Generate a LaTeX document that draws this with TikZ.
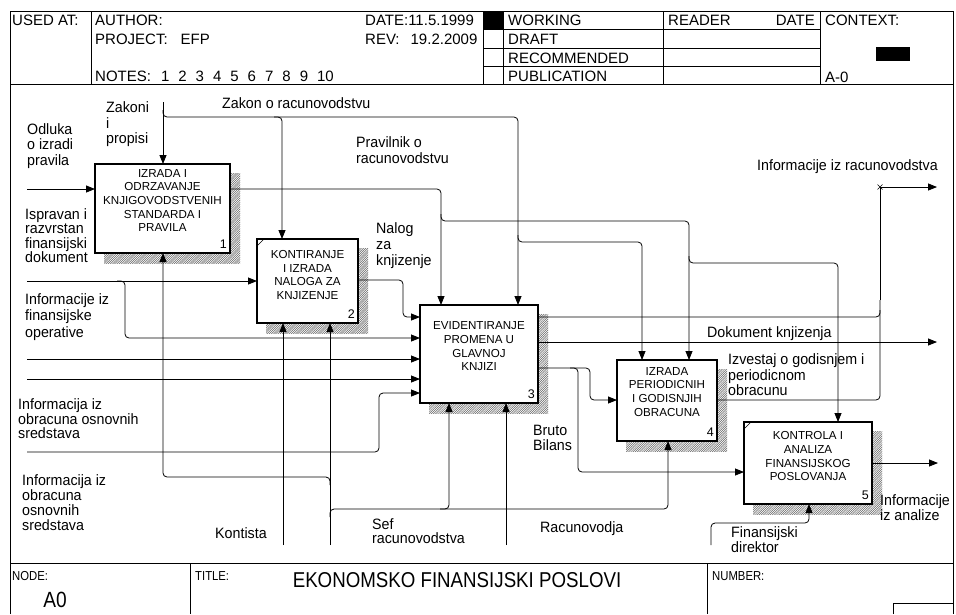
\documentclass[tikz,border=0pt]{standalone}
\usepackage{fontspec}
\setmainfont{Liberation Sans}
\newfontfamily\hdrfont{Liberation Sans}
\newfontfamily\lblfont[FakeStretch=0.95]{Liberation Sans}
\newfontfamily\boxfont{Liberation Sans}
\newfontfamily\narrowfont[FakeStretch=0.87]{Liberation Sans}
\usetikzlibrary{arrows.meta,patterns}
\pgfdeclarepatternformonly{densehatch}{\pgfqpoint{-1pt}{-1pt}}{\pgfqpoint{3.2pt}{3.2pt}}{\pgfqpoint{2.2pt}{2.2pt}}{%
  \pgfsetlinewidth{0.5pt}%
  \pgfpathmoveto{\pgfqpoint{-0.1pt}{-0.1pt}}%
  \pgfpathlineto{\pgfqpoint{2.3pt}{2.3pt}}%
  \pgfusepath{stroke}}
\newcommand{\ngap}{\hspace{9pt}}
\begin{document}
\begin{tikzpicture}[x=1pt,y=-1pt,
  frame/.style={line width=0.8pt},
  thinl/.style={line width=0.6pt},
  proc/.style={draw, line width=1.5pt, fill=white, inner sep=0pt, outer sep=0pt, anchor=north west},
  shadowbox/.style={pattern=densehatch, pattern color=black!60, draw=none},
  conn/.style={line width=0.8pt, rounded corners=4pt},
  arr/.style={conn, -{Triangle[length=9pt,width=7pt]}},
  lbl/.style={font=\lblfont\fontsize{15}{15.5}\selectfont, align=left, inner sep=0pt, anchor=north west},
  hdr/.style={font=\hdrfont\fontsize{15}{17}\selectfont, inner sep=0pt, anchor=west},
  ftr/.style={font=\narrowfont\fontsize{13}{15}\selectfont, inner sep=0pt, anchor=west},
  btxt/.style={font=\boxfont\fontsize{11.6}{13.7}\selectfont, align=center, inner sep=0pt, anchor=north},
  bnum/.style={font=\hdrfont\fontsize{12.5}{14}\selectfont, inner sep=0pt, anchor=south east},
]
\useasboundingbox (0,0) rectangle (956,614);
\fill[white] (0,0) rectangle (956,614);

% ---------- frame ----------
\draw[frame] (10,614) -- (10,11) -- (953,11) -- (953,614);
\draw[frame] (10,84) -- (953,84);
\draw[frame] (10,563) -- (953,563);
\draw[frame] (91,11) -- (91,84);
\draw[frame] (483,11) -- (483,84);
\draw[frame] (503,11) -- (503,84);
\draw[frame] (663,11) -- (663,84);
\draw[frame] (820,11) -- (820,84);
\draw[frame] (483,29.5) -- (820,29.5);
\draw[frame] (483,48) -- (820,48);
\draw[frame] (483,66) -- (820,66);
\fill (483,11) rectangle (503,29.5);
\fill (876,47) rectangle (910,61);
\draw[frame] (190,563) -- (190,614);
\draw[frame] (707,563) -- (707,614);
\draw[frame] (893,614) -- (893,603) -- (953,603);

% ---------- header text ----------
\node[hdr] (usedat) at (12,20.5) {USED AT:};
\node[hdr] (author) at (95,20.5) {AUTHOR:};
\node[hdr] (project) at (95,39) {PROJECT:\hspace{13pt}EFP};
\node[hdr] (notes) at (95,76) {NOTES:\hspace{10pt}1\ngap 2\ngap 3\ngap 4\ngap 5\ngap 6\ngap 7\ngap 8\ngap 9\ngap 10};
\node[hdr] (date) at (365,20.5) {DATE:11.5.1999};
\node[hdr] (rev) at (365,39) {REV:\hspace{11pt}19.2.2009};
\node[hdr] (working) at (508,20.5) {WORKING};
\node[hdr] (draft) at (508,39.5) {DRAFT};
\node[hdr] (recom) at (508,58) {RECOMMENDED};
\node[hdr] (publ) at (508,76) {PUBLICATION};
\node[hdr] (reader) at (668,20.5) {READER};
\node[hdr, anchor=east] (rdate) at (815,20.5) {DATE};
\node[hdr] (context) at (825,20.5) {CONTEXT:};
\node[hdr] (azero) at (825,77.5) {A-0};

% ---------- footer text ----------
\node[ftr] (nodelbl) at (12,576) {NODE:};
\node[inner sep=0pt, font=\narrowfont\fontsize{22}{24}\selectfont] (nodeval) at (55,600) {A0};
\node[ftr] (titlelbl) at (195,576) {TITLE:};
\node[inner sep=0pt, font=\narrowfont\fontsize{21.5}{23}\selectfont] (title) at (457,580) {EKONOMSKO FINANSIJSKI POSLOVI};
\node[ftr] (numlbl) at (712,576) {NUMBER:};

% ---------- shadows ----------
\fill[shadowbox] (104,173) rectangle (240,263);
\fill[shadowbox] (266,248) rectangle (368,333);
\fill[shadowbox] (429,314) rectangle (548,413);
\fill[shadowbox] (626,369) rectangle (727,451);
\fill[shadowbox] (753,431) rectangle (882,514);

% ---------- boxes ----------
\node[proc, minimum width=135pt, minimum height=89pt] (b1) at (95,164) {};
\node[proc, minimum width=101pt, minimum height=84pt] (b2) at (257,239) {};
\node[proc, minimum width=118pt, minimum height=98pt] (b3) at (420,305) {};
\node[proc, minimum width=100pt, minimum height=81pt] (b4) at (617,360) {};
\node[proc, minimum width=128pt, minimum height=82pt] (b5) at (744,422) {};

\node[btxt, yshift=-5pt] (t1) at (b1.north) {IZRADA I\\ODRZAVANJE\\KNJIGOVODSTVENIH\\STANDARDA I\\PRAVILA};
\node[btxt, yshift=-11pt] (t2) at (b2.north) {KONTIRANJE\\I IZRADA\\NALOGA ZA\\KNJIZENJE};
\node[btxt, yshift=-16.5pt] (t3) at (b3.north) {EVIDENTIRANJE\\PROMENA U\\GLAVNOJ\\KNJIZI};
\node[btxt, yshift=-7pt] (t4) at (b4.north) {IZRADA\\PERIODICNIH\\I GODISNJIH\\OBRACUNA};
\node[btxt, yshift=-9.5pt] (t5) at (b5.north) {KONTROLA I\\ANALIZA\\FINANSIJSKOG\\POSLOVANJA};

\node[bnum, xshift=-3pt, yshift=4pt] (n1) at (b1.south east) {1};
\node[bnum, xshift=-3pt, yshift=4pt] (n2) at (b2.south east) {2};
\node[bnum, xshift=-3pt, yshift=4pt] (n3) at (b3.south east) {3};
\node[bnum, xshift=-3pt, yshift=4pt] (n4) at (b4.south east) {4};
\node[bnum, xshift=-3pt, yshift=4pt] (n5) at (b5.south east) {5};

\draw[thinl] ([yshift=-7pt]b2.north west) -- ([xshift=7pt]b2.north west);
\draw[thinl] ([yshift=-7pt]b5.north west) -- ([xshift=7pt]b5.north west);

% ---------- free ends ----------
\coordinate (odluka) at (27,189);
\coordinate (zakoni) at (163,102);
\coordinate (ispravan) at (27,281);
\coordinate (fin1) at (27,359);
\coordinate (fin2) at (27,379);
\coordinate (osn) at (27,452);
\coordinate (infr) at (937,187);
\coordinate (dok) at (937,342);
\coordinate (infa) at (938,463);
\coordinate (kont) at (283,545);
\coordinate (sef) at (330,545);
\coordinate (racun) at (506,545);
\coordinate (fd) at (711,545);

% ---------- inputs ----------
\draw[arr] (odluka) -- (b1.west |- odluka);
\draw[arr] (ispravan) -- (b2.west |- ispravan);
\draw[arr] (117,281) -- (125,281) -- (125,338) -- (b3.west |- 0,338);
\draw[arr] (fin1) -- (b3.west |- fin1);
\draw[arr] (fin2) -- (b3.west |- fin2);
\draw[arr] (osn) -- (379,452) -- (379,393) -- (b3.west |- 0,393);

% ---------- controls ----------
\draw[arr] (zakoni) -- (b1.north -| zakoni);
\draw[arr] (163,110) -- (163,117) -- (518,117) -- (b3.north -| 518,0);
\draw[arr] (274,117) -- (282,117) -- (b2.north -| 282,0);
\draw[arr] (518,235) -- (518,242) -- (642,242) -- (b4.north -| 642,0);

% ---------- box 1 output ----------
\draw[arr] (b1.east |- 0,189) -- (441,189) -- (b3.north -| 441,0);
\draw[arr] (441,214) -- (441,221) -- (689,221) -- (b4.north -| 689,0);
\draw[arr] (689,256) -- (689,263) -- (838,263) -- (b5.north -| 838,0);

% ---------- box 2 output ----------
\draw[arr] (b2.east |- 0,280) -- (403,280) -- (403,317) -- (b3.west |- 0,317);

% ---------- box 3 outputs ----------
\draw[conn] (b3.east |- 0,317) -- (880,317) -- (880,300);
\draw[line width=0.8pt, -{Triangle[length=9pt,width=7pt]}] (880,300) -- (880,187) -- (infr);
\draw[thinl] (877.5,184.5) -- (882.5,189.5) (877.5,189.5) -- (882.5,184.5);
\draw[arr] (b3.east |- 0,342) -- (dok);
\draw[arr] (b3.east |- 0,368) -- (590,368) -- (590,400) -- (b4.west |- 0,400);
\draw[arr] (570,368) -- (578,368) -- (578,472) -- (b5.west |- 0,472);

% ---------- box 4 / 5 outputs ----------
\draw[conn] (b4.east |- 0,400) -- (880,400) -- (880,310);
\draw[arr] (b5.east |- 0,463) -- (infa);

% ---------- mechanisms ----------
\draw[arr] (kont) -- (b2.south -| kont);
\draw[arr] (sef) -- (b2.south -| sef);
\draw[arr] (330,485) -- (330,477) -- (163,477) -- (b1.south -| 163,0);
\draw[arr] (330,517) -- (330,509) -- (668,509) -- (b4.south -| 668,0);
\draw[arr] (440,509) -- (449,509) -- (b3.south -| 449,0);
\draw[arr] (racun) -- (b3.south -| racun);
\draw[arr] (fd) -- (711,523) -- (809,523) -- (b5.south -| 809,0);

% ---------- labels ----------
\node[lbl, font=\lblfont\fontsize{15}{15.5}\selectfont] (lodluka) at (27,123) {Odluka\\o izradi\\pravila};
\node[lbl] (lzakoni) at (106,101.5) {Zakoni\\i\\propisi};
\node[lbl] (lzakon) at (222,97.5) {Zakon o racunovodstvu};
\node[lbl, font=\lblfont\fontsize{15}{16}\selectfont] (lpravilnik) at (356,136.5) {Pravilnik o\\racunovodstvu};
\node[lbl, font=\lblfont\fontsize{15}{14.3}\selectfont] (lispravan) at (25,208.5) {Ispravan i\\razvrstan\\finansijski\\dokument};
\node[lbl, font=\lblfont\fontsize{15}{16}\selectfont] (lnalog) at (376,222.5) {Nalog\\za\\knjizenje};
\node[lbl, font=\lblfont\fontsize{15}{16.3}\selectfont] (lfinop) at (25,293.5) {Informacije iz\\finansijske\\operative};
\node[lbl, font=\lblfont\fontsize{15}{14.5}\selectfont] (losn1) at (18,398.5) {Informacija iz\\obracuna osnovnih\\sredstava};
\node[lbl, font=\lblfont\fontsize{15}{15}\selectfont] (losn2) at (22,474.5) {Informacija iz\\obracuna\\osnovnih\\sredstava};
\node[lbl] (lkont) at (215,527.5) {Kontista};
\node[lbl, font=\lblfont\fontsize{15}{14}\selectfont] (lsef) at (372,518.5) {Sef\\racunovodstva};
\node[lbl] (lracun) at (540,521) {Racunovodja};
\node[lbl, font=\lblfont\fontsize{15}{15}\selectfont] (lfd) at (731,526) {Finansijski\\direktor};
\node[lbl, font=\lblfont\fontsize{15}{15}\selectfont] (lbruto) at (533,424.5) {Bruto\\Bilans};
\node[lbl] (ldok) at (707,326) {Dokument knjizenja};
\node[lbl] (lizv) at (728,353.5) {Izvestaj o godisnjem i\\periodicnom\\obracunu};
\node[lbl] (linfr) at (757,159.5) {Informacije iz racunovodstva};
\node[lbl, font=\lblfont\fontsize{15}{15}\selectfont] (linfa) at (880,494.5) {Informacije\\iz analize};
\end{tikzpicture}
\end{document}
